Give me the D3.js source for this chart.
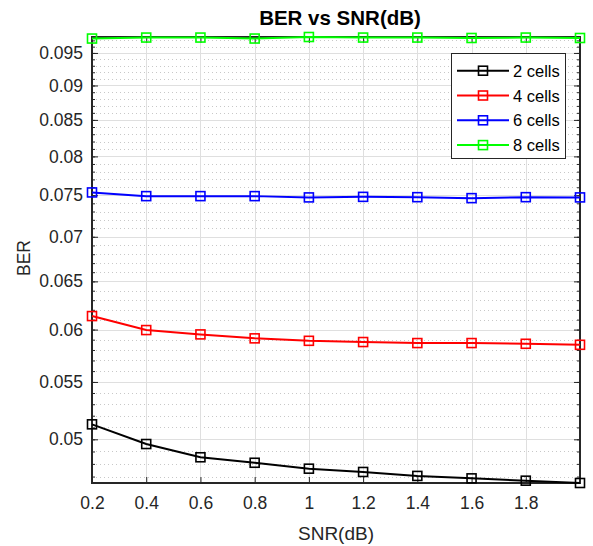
<!DOCTYPE html>
<html>
<head>
<meta charset="utf-8">
<script src="https://cdn.jsdelivr.net/npm/d3@7"></script>
<style>
  html, body { margin: 0; padding: 0; background: #ffffff; }
  svg { display: block; }
  text { font-family: "Liberation Sans", Arial, Helvetica, sans-serif; }
</style>
</head>
<body>
<svg id="chart" width="593" height="546"></svg>
<script>
// SNR sweep (dB)
const snr = [0.2, 0.4, 0.6, 0.8, 1.0, 1.2, 1.4, 1.6, 1.8, 2.0];

// BER per cell count
const ber2 = [0.05126, 0.04961, 0.04853, 0.04809, 0.04762, 0.04736, 0.04705, 0.04686, 0.04668, 0.04650];
const ber4 = [0.06136, 0.05995, 0.05952, 0.05913, 0.05889, 0.05877, 0.05867, 0.05867, 0.05860, 0.05850];
const ber6 = [0.07535, 0.07489, 0.07489, 0.07489, 0.07473, 0.07480, 0.07476, 0.07464, 0.07476, 0.07473];
const ber8 = [0.09730, 0.09746, 0.09746, 0.09730, 0.09755, 0.09746, 0.09746, 0.09739, 0.09746, 0.09739];

const seriesNames = ["2 cells", "4 cells", "6 cells", "8 cells"];
const seriesColors = ["#000000", "#ff0000", "#0000ff", "#00ff00"];

// Axis ticks
const xTicks = [0.2, 0.4, 0.6, 0.8, 1, 1.2, 1.4, 1.6, 1.8];
const yTicks = [0.05, 0.055, 0.06, 0.065, 0.07, 0.075, 0.08, 0.085, 0.09, 0.095];
const yMinorTicks = d3.range(47, 98).map(k => k / 1000);

const titleText = "BER vs SNR(dB)";
const xLabel = "SNR(dB)";
const yLabel = "BER";

const svg = d3.select("#chart");
const plotLeft = 92, plotRight = 580, plotTop = 37, plotBottom = 483;
const ink = "#262626";

const allValues = [...ber2, ...ber4, ...ber6, ...ber8];
const x = d3.scaleLinear().domain([0.2, 2.0]).range([plotLeft, plotRight]);
const y = d3.scaleLog().domain(d3.extent(allValues)).range([plotBottom, plotTop]);

// white plotting area
svg.append("rect").attr("x", plotLeft).attr("y", plotTop)
  .attr("width", plotRight - plotLeft).attr("height", plotBottom - plotTop).attr("fill", "#ffffff");

// minor horizontal grid (dotted)
const grid = svg.append("g");
grid.selectAll("line.minor").data(yMinorTicks.filter(v => !yTicks.some(t => Math.abs(t - v) < 1e-9)))
  .join("line").attr("class", "minor")
  .attr("x1", plotLeft).attr("x2", plotRight)
  .attr("y1", d => Math.round(y(d)) + 0.5).attr("y2", d => Math.round(y(d)) + 0.5)
  .attr("stroke", "#c8c8c8").attr("stroke-width", 1).attr("stroke-dasharray", "1,3");

// major grid
grid.selectAll("line.ymajor").data(yTicks).join("line").attr("class", "ymajor")
  .attr("x1", plotLeft).attr("x2", plotRight)
  .attr("y1", d => Math.round(y(d)) + 0.5).attr("y2", d => Math.round(y(d)) + 0.5)
  .attr("stroke", "#dfdfdf").attr("stroke-width", 1);
grid.selectAll("line.xmajor").data(xTicks).join("line").attr("class", "xmajor")
  .attr("y1", plotTop).attr("y2", plotBottom)
  .attr("x1", d => Math.round(x(d)) + 0.5).attr("x2", d => Math.round(x(d)) + 0.5)
  .attr("stroke", "#dfdfdf").attr("stroke-width", 1);

// axes (ticks pointing inward)
function styleAxis(g) {
  g.select(".domain").remove();
  g.selectAll(".tick line").attr("stroke", ink).attr("stroke-width", 1);
  g.selectAll(".tick text").attr("fill", ink).attr("font-size", 17.5);
}
svg.append("g").attr("transform", `translate(${plotLeft},0)`)
  .call(d3.axisLeft(y).tickValues(yTicks).tickSize(-6).tickPadding(9).tickFormat(d => String(d)))
  .call(styleAxis);
svg.append("g").attr("transform", `translate(${plotLeft},0)`)
  .call(d3.axisLeft(y).tickValues(yMinorTicks).tickSize(-3).tickFormat(""))
  .call(styleAxis);
svg.append("g").attr("transform", `translate(${plotRight},0)`)
  .call(d3.axisRight(y).tickValues(yTicks).tickSize(-6).tickFormat(""))
  .call(styleAxis);
svg.append("g").attr("transform", `translate(${plotRight},0)`)
  .call(d3.axisRight(y).tickValues(yMinorTicks).tickSize(-3).tickFormat(""))
  .call(styleAxis);
svg.append("g").attr("transform", `translate(0,${plotBottom})`)
  .call(d3.axisBottom(x).tickValues(xTicks).tickSize(-6).tickPadding(14).tickFormat(d => String(d)))
  .call(styleAxis);
svg.append("g").attr("transform", `translate(0,${plotTop})`)
  .call(d3.axisTop(x).tickValues(xTicks).tickSize(-6).tickFormat(""))
  .call(styleAxis);

// box
svg.append("rect").attr("x", plotLeft).attr("y", plotTop)
  .attr("width", plotRight - plotLeft).attr("height", plotBottom - plotTop)
  .attr("fill", "none").attr("stroke", ink).attr("stroke-width", 2);

// series
const series = [ber2, ber4, ber6, ber8].map((vals, i) => ({
  name: seriesNames[i], color: seriesColors[i],
  points: snr.map((s, j) => ({ s, v: vals[j] }))
}));
const line = d3.line().x(d => x(d.s)).y(d => y(d.v));
const ms = 9;
series.forEach(sr => {
  const g = svg.append("g");
  g.append("path").datum(sr.points).attr("d", line)
    .attr("fill", "none").attr("stroke", sr.color).attr("stroke-width", 2);
  g.selectAll("rect").data(sr.points).join("rect")
    .attr("x", d => x(d.s) - ms / 2).attr("y", d => y(d.v) - ms / 2)
    .attr("width", ms).attr("height", ms)
    .attr("fill", "none").attr("stroke", sr.color).attr("stroke-width", 1.6);
});

// title and axis labels
svg.append("text").attr("x", (plotLeft + plotRight) / 2 + 4).attr("y", 25)
  .attr("text-anchor", "middle").attr("font-size", 20.5).attr("font-weight", "bold")
  .attr("fill", "#000000").text(titleText);
svg.append("text").attr("x", (plotLeft + plotRight) / 2).attr("y", 540)
  .attr("text-anchor", "middle").attr("font-size", 19).attr("fill", ink).text(xLabel);
svg.append("text").attr("transform", `translate(30,${(plotTop + plotBottom) / 2 - 2}) rotate(-90)`)
  .attr("text-anchor", "middle").attr("font-size", 17.5).attr("fill", ink).text(yLabel);

// legend
const lg = svg.append("g");
lg.append("rect").attr("x", 451.5).attr("y", 53.5).attr("width", 114).attr("height", 105)
  .attr("fill", "#ffffff").attr("stroke", ink).attr("stroke-width", 1);
series.forEach((sr, i) => {
  const cy = 70.7 + i * 24.8;
  lg.append("line").attr("x1", 457).attr("x2", 509).attr("y1", cy).attr("y2", cy)
    .attr("stroke", sr.color).attr("stroke-width", 2);
  lg.append("rect").attr("x", 483 - ms / 2).attr("y", cy - ms / 2)
    .attr("width", ms).attr("height", ms)
    .attr("fill", "none").attr("stroke", sr.color).attr("stroke-width", 1.6);
  lg.append("text").attr("x", 513).attr("y", cy + 6).attr("font-size", 16.5)
    .attr("fill", "#000000").text(sr.name);
});
</script>
</body>
</html>
